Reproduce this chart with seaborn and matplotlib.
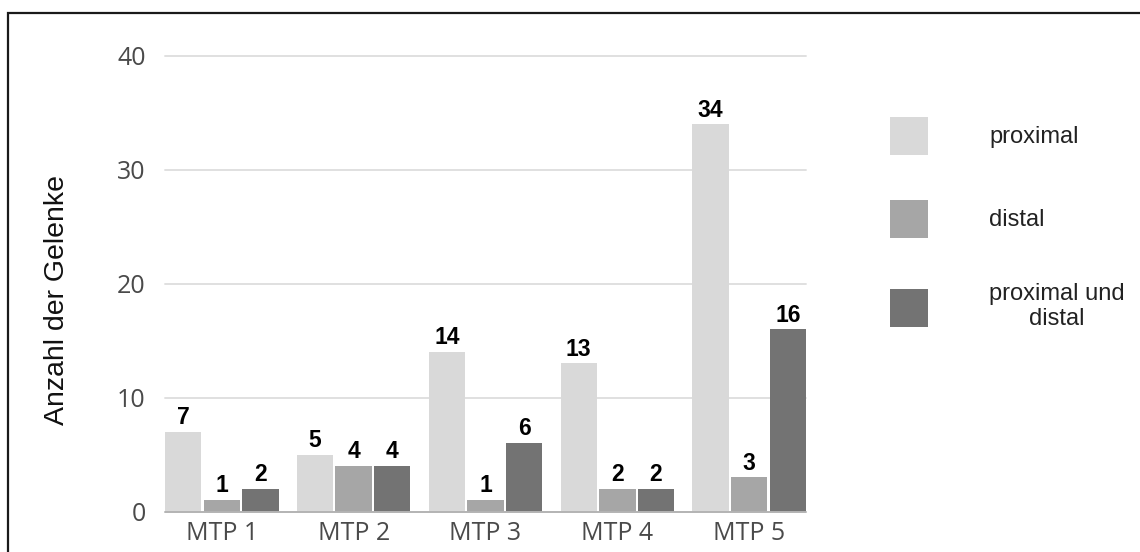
import matplotlib
matplotlib.use("Agg")
import matplotlib.pyplot as plt
from matplotlib.patches import Rectangle
import seaborn as sns
import pandas as pd

# Joint counts per metatarsophalangeal joint, split by lesion location
categories = ["MTP 1", "MTP 2", "MTP 3", "MTP 4", "MTP 5"]
series_names = ["proximal", "distal", "proximal und\ndistal"]
proximal = [7, 5, 14, 13, 34]
distal = [1, 4, 1, 2, 3]
proximal_distal = [2, 4, 6, 2, 16]
y_ticks = [0, 10, 20, 30, 40]
y_label = "Anzahl der Gelenke"
colors = ["#d9d9d9", "#a6a6a6", "#737373"]

df = pd.DataFrame({
    "MTP": categories * 3,
    "Lage": [series_names[0]] * 5 + [series_names[1]] * 5 + [series_names[2]] * 5,
    "Anzahl": proximal + distal + proximal_distal,
})

sns.set_theme(style="white")
plt.rcParams["font.family"] = ["Liberation Sans", "DejaVu Sans"]

fig = plt.figure(figsize=(11.4, 5.52), dpi=100)
ax = fig.add_axes([165 / 1140, 1 - 511.5 / 552, 641 / 1140, 455.5 / 552])

group_w = 0.878
sns.barplot(data=df, x="MTP", y="Anzahl", hue="Lage", hue_order=series_names,
            order=categories, palette=colors, saturation=1, width=group_w,
            gap=0.055, linewidth=0, ax=ax, zorder=3)

ax.set_ylim(0, 40)
half = group_w / 2 - 0.008
ax.set_xlim(-half, len(categories) - 1 + half)
ax.set_yticks(y_ticks)
for y in y_ticks[1:]:
    ax.axhline(y, color="#e0e0e0", lw=1.4, zorder=1, clip_on=False)
ax.axhline(0, color="#b3b3b3", lw=1.4, zorder=4, clip_on=False)

for s in ax.spines.values():
    s.set_visible(False)
ax.tick_params(axis="both", length=0)
ax.tick_params(axis="y", pad=14)
ax.tick_params(axis="x", pad=7)
for lab in ax.get_xticklabels() + ax.get_yticklabels():
    lab.set_fontfamily(["Open Sans", "DejaVu Sans"])
    lab.set_fontweight("normal")
    lab.set_fontsize(18)
    lab.set_color("#4a4a4a")
ax.set_xlabel("")
ax.set_ylabel("")

# value labels on top of each bar
for cont in ax.containers:
    ax.bar_label(cont, fmt="%d", padding=2, fontsize=16.5, fontweight="bold",
                 color="black", zorder=5)

fig.text(57 / 1140, 1 - 300 / 552, y_label, rotation=90, ha="center",
         va="center", fontsize=20.5, color="#111111")

handles, labels = ax.get_legend_handles_labels()
ax.get_legend().remove()
leg = fig.legend(handles, labels, loc="upper left",
                 bbox_to_anchor=(890 / 1140, 1 - 117 / 552),
                 bbox_transform=fig.transFigure, frameon=False, fontsize=17,
                 handlelength=1.61, handleheight=2.1, handletextpad=2.6,
                 labelspacing=1.9, borderpad=0, borderaxespad=0)
for t in leg.get_texts():
    t.set_color("#222222")
    t.set_multialignment("center")

# outer frame
fig.patches.append(Rectangle((8 / 1140, -0.1), 1.2, 1 - 13 / 552 + 0.1,
                             transform=fig.transFigure, fill=False,
                             edgecolor="#1a1a1a", lw=1.6))

fig.savefig("out.png", dpi=100)
